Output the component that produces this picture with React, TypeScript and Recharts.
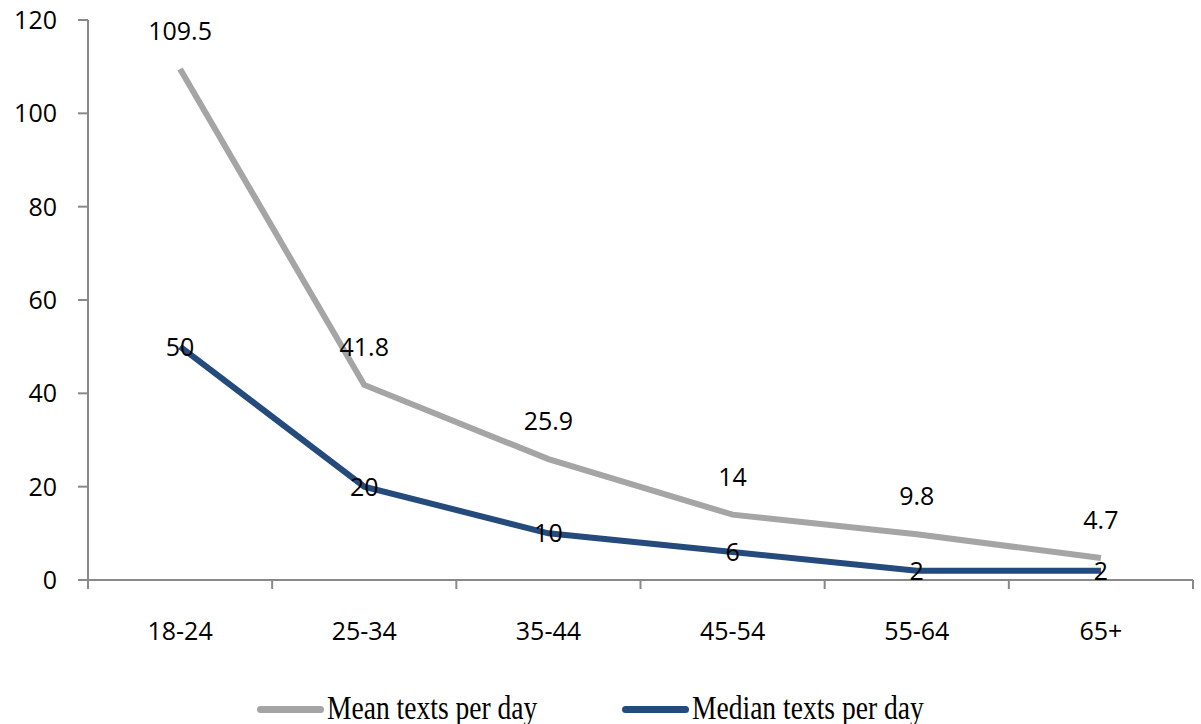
import { LabelList, Legend, Line, LineChart, XAxis, YAxis } from "recharts";

const ageGroups = ["18-24", "25-34", "35-44", "45-54", "55-64", "65+"];
const meanTexts = [109.5, 41.8, 25.9, 14, 9.8, 4.7];
const medianTexts = [50, 20, 10, 6, 2, 2];
const yTicks = [0, 20, 40, 60, 80, 100, 120];
const boundaryTicks = [0, 1, 2, 3, 4, 5, 6];

const MEAN_COLOR = "#A5A5A5";
const MEDIAN_COLOR = "#254B7D";
const AXIS_COLOR = "#898989";
const SANS = "'Open Sans', sans-serif";
const SERIF = "'Liberation Serif', serif";

const data = ageGroups.map((age, i) => ({
  age,
  pos: i + 0.5,
  mean: meanTexts[i],
  median: medianTexts[i],
}));

function LegendItem({ color, label, left }: { color: string; label: string; left: number }) {
  return (
    <div style={{ position: "absolute", left, top: 0, height: 44, width: 320 }}>
      <div
        style={{
          position: "absolute",
          left: 0,
          top: 26,
          width: 67,
          height: 7,
          borderRadius: 4,
          background: color,
        }}
      />
      <span
        style={{
          position: "absolute",
          left: 70,
          top: 11,
          fontFamily: SERIF,
          fontSize: 34,
          lineHeight: 1,
          whiteSpace: "nowrap",
          color: "#000",
          transform: "scaleX(0.81)",
          transformOrigin: "left center",
        }}
      >
        {label}
      </span>
    </div>
  );
}

function ChartLegend() {
  return (
    <div style={{ position: "relative", height: 44, width: 1193 }}>
      <LegendItem color={MEAN_COLOR} label="Mean texts per day" left={257} />
      <LegendItem color={MEDIAN_COLOR} label="Median texts per day" left={622} />
    </div>
  );
}

const EmptyTick = () => <g />;

export default function App() {
  return (
    <div style={{ position: "absolute", left: 0, top: 0, background: "#fff" }}>
      <LineChart width={1201} height={724} data={data} margin={{ top: 20, right: 8, left: 0, bottom: 0 }}>
        <XAxis
          xAxisId="base"
          type="number"
          dataKey="pos"
          domain={[0, 6]}
          ticks={boundaryTicks}
          tick={EmptyTick}
          tickLine={{ stroke: AXIS_COLOR, strokeWidth: 2 }}
          tickSize={9}
          height={1}
          stroke={AXIS_COLOR}
          strokeWidth={2}
          allowDataOverflow
        />
        <XAxis
          xAxisId="cat"
          dataKey="age"
          scale="band"
          height={99}
          axisLine={false}
          tickLine={false}
          tickSize={8}
          tickMargin={33}
          interval={0}
          tick={{ fontSize: 25, fill: "#000", fontFamily: SANS }}
        />
        <YAxis
          width={88}
          domain={[0, 120]}
          ticks={yTicks}
          tickSize={10}
          tickMargin={21}
          stroke={AXIS_COLOR}
          strokeWidth={2}
          tick={{ fontSize: 25, fill: "#000", fontFamily: SANS }}
        />
        <Legend verticalAlign="bottom" content={<ChartLegend />} />
        <Line
          xAxisId="cat"
          type="linear"
          dataKey="mean"
          stroke={MEAN_COLOR}
          strokeWidth={6}
          dot={false}
          isAnimationActive={false}
        >
          <LabelList dataKey="mean" position="top" offset={29} fill="#000" fontSize={25} fontFamily={SANS} />
        </Line>
        <Line
          xAxisId="cat"
          type="linear"
          dataKey="median"
          stroke={MEDIAN_COLOR}
          strokeWidth={6}
          dot={false}
          isAnimationActive={false}
        >
          <LabelList dataKey="median" position="center" fill="#000" fontSize={25} fontFamily={SANS} />
        </Line>
      </LineChart>
    </div>
  );
}
